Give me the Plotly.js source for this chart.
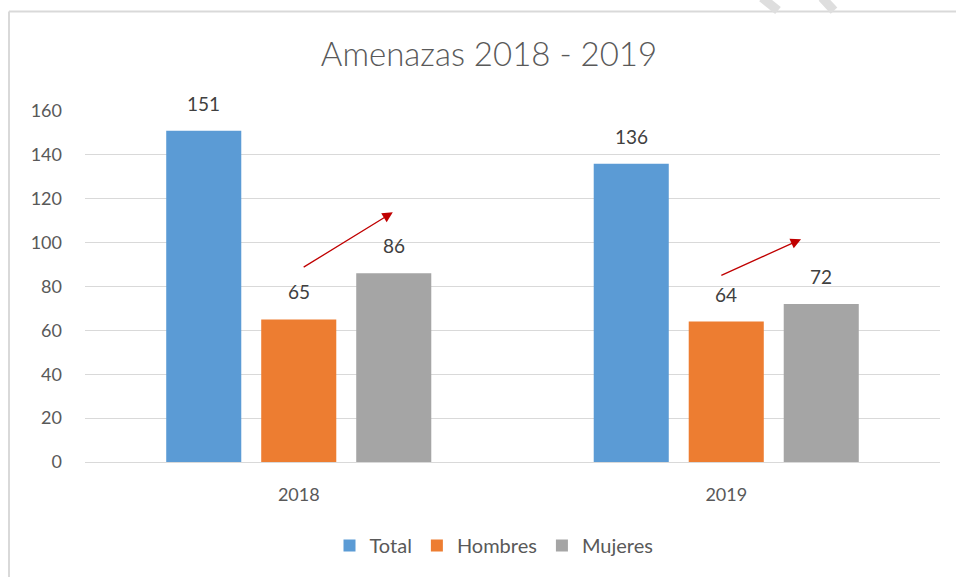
<!DOCTYPE html>
<html>
<head>
<meta charset="utf-8">
<script src="https://cdn.plot.ly/plotly-3.0.1.min.js"></script>
<style>html,body{margin:0;padding:0;background:#fff;}#chart{width:956px;height:577px;}</style>
</head>
<body>
<div id="chart"></div>
<script>
var categories = ["2018", "2019"];
var seriesNames = ["Total", "Hombres", "Mujeres"];
var totalValues = [151, 136];
var hombresValues = [65, 64];
var mujeresValues = [86, 72];
var seriesColors = ["#5b9bd5", "#ed7d31", "#a5a5a5"];
var yTicks = [0, 20, 40, 60, 80, 100, 120, 140, 160];

var seriesValues = [totalValues, hombresValues, mujeresValues];
var FONT = "Lato, 'Open Sans', sans-serif";
var textColor = "#595959";

var traces = seriesValues.map(function (vals, i) {
  return {
    type: "bar",
    name: seriesNames[i],
    x: categories,
    y: vals,
    marker: {color: seriesColors[i]},
    hoverinfo: "none"
  };
});

var bargap = 0.3333;
var slot = (1 - bargap) / seriesNames.length;
var annotations = [];
seriesValues.forEach(function (vals, j) {
  vals.forEach(function (v, i) {
    annotations.push({
      x: i + (j - 1) * slot, y: v, xref: "x", yref: "y",
      text: String(v), showarrow: false, yanchor: "bottom", yshift: 14,
      font: {family: FONT, size: 19, color: "#404040"}
    });
  });
});
// red arrows
annotations.push({
  x: 0.22, y: 113.8, ax: 0.008, ay: 88.4, xref: "x", yref: "y", axref: "x", ayref: "y",
  text: "", showarrow: true, arrowhead: 2, arrowsize: 1.6, arrowwidth: 1.3, arrowcolor: "#c00000"
});
annotations.push({
  x: 1.175, y: 101.5, ax: 0.985, ay: 84.8, xref: "x", yref: "y", axref: "x", ayref: "y",
  text: "", showarrow: true, arrowhead: 2, arrowsize: 1.6, arrowwidth: 1.3, arrowcolor: "#c00000"
});

function px2x(p) { return (p - 85) / 855; }
function py2y(p) { return (464 - p) / 353; }

var shapes = [
  {type: "line", xref: "paper", yref: "paper", x0: px2x(9), x1: px2x(9), y0: py2y(11), y1: py2y(580), line: {color: "#d9d9d9", width: 2}},
  {type: "line", xref: "paper", yref: "paper", x0: px2x(9), x1: px2x(960), y0: py2y(11), y1: py2y(11), line: {color: "#d9d9d9", width: 2}},
  {type: "line", xref: "paper", yref: "paper", x0: px2x(762), x1: px2x(778), y0: py2y(-3), y1: py2y(10), line: {color: "#dedede", width: 9}},
  {type: "line", xref: "paper", yref: "paper", x0: px2x(822), x1: px2x(834), y0: py2y(-3), y1: py2y(10), line: {color: "#dedede", width: 9}}
];

var layout = {
  width: 956, height: 577,
  margin: {l: 85, r: 16, t: 111, b: 113},
  paper_bgcolor: "#ffffff", plot_bgcolor: "#ffffff",
  title: {
    text: "Amenazas 2018 - 2019",
    font: {family: FONT, size: 33, color: textColor, weight: 300},
    xref: "container", x: 489 / 956, xanchor: "center",
    yref: "container", y: 1 - 54 / 577, yanchor: "middle"
  },
  barmode: "group",
  bargap: bargap,
  bargroupgap: 0.21,
  xaxis: {
    type: "category",
    showgrid: false, zeroline: false, showline: false, ticks: "",
    tickfont: {family: FONT, size: 18, color: textColor},
    ticklabelstandoff: 20
  },
  yaxis: {
    range: [0, 160], tickvals: yTicks, ticktext: yTicks.map(String),
    showgrid: true, gridcolor: "#d9d9d9", gridwidth: 1,
    zeroline: true, zerolinecolor: "#d9d9d9", zerolinewidth: 1,
    showline: false, ticks: "",
    tickfont: {family: FONT, size: 18, color: textColor},
    ticklabelstandoff: 22
  },
  legend: {
    orientation: "h", xref: "paper", yref: "paper",
    x: (494 - 85) / 855, xanchor: "center", y: py2y(548), yanchor: "middle",
    font: {family: FONT, size: 20, color: textColor},
    itemwidth: 30, traceorder: "normal"
  },
  showlegend: true,
  annotations: annotations,
  shapes: shapes
};

Plotly.newPlot("chart", traces, layout, {displayModeBar: false, staticPlot: true});
</script>
</body>
</html>
